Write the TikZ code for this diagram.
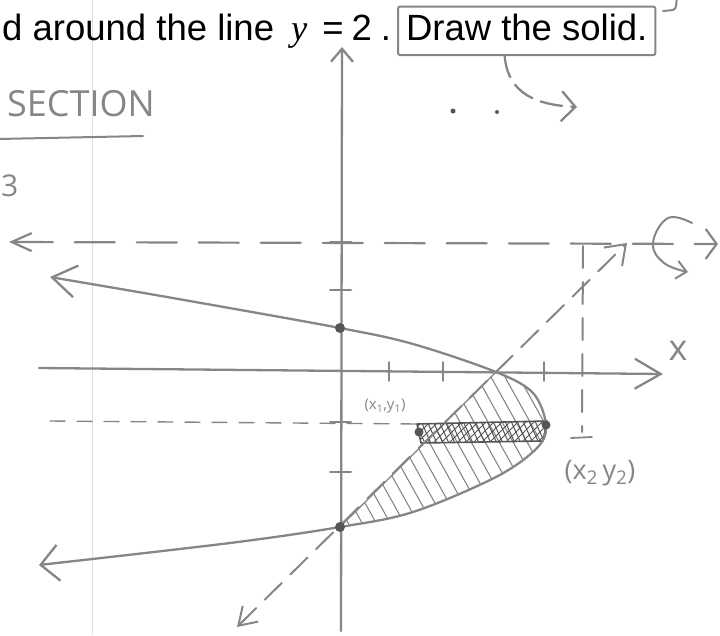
\documentclass[tikz,border=0pt]{standalone}
\usepackage{fontspec}
\setmainfont{Liberation Sans}
\newfontfamily\handfont{Open Sans}
\newfontfamily\serifit{Liberation Serif}[ItalicFont=* Italic]
\usetikzlibrary{arrows.meta}
\definecolor{pencil}{HTML}{868686}
\definecolor{lead}{HTML}{555555}

\begin{document}
\begin{tikzpicture}[
				x=1pt, y=-1pt,
				line cap=round,
				line join=round,
				pencil line/.style={draw=pencil, line width=2.3pt},
				pencil dash/.style={draw=pencil, line width=2.2pt, dash pattern=on 40pt off 22pt},
				thin dash/.style={draw=pencil, line width=1.4pt, dash pattern=on 15pt off 12pt},
				hatch line/.style={draw=pencil, line width=1.1pt},
				strip hatch/.style={draw=lead, line width=1pt},
				pt dot/.style={circle, fill=lead, inner sep=0pt, minimum size=#1},
				pt dot/.default=9pt,
				hand text/.style={text=pencil, font=\handfont\fontsize{#1}{#1}\selectfont, inner sep=0pt},
				typed/.style={font=\fontsize{36.5}{40}\selectfont, inner sep=0pt}
				]
				\useasboundingbox (0,0) rectangle (720,635);
				
				% Margin of the paper
				\draw[black!12, line width=0.8pt] (92,0) -- (92,635);
				
				% Question text
				\node[typed, anchor=base west] (stem) at (2,40) {d around the line};
				\node[typed, anchor=base west] (eqn) at (291,40) {{\serifit\itshape y}\hspace{15pt}=\hspace{8pt}2\hspace{9pt}.};
				\node[typed, draw=pencil, line width=2pt, rounded corners=2pt, inner xsep=8pt, inner ysep=7pt, text depth=8pt, anchor=base west] (solid) at (397,40) {Draw the solid.};
				\draw[pencil line, line width=2pt] (677,-3) -- (676,6) .. controls (675,10) .. (663,11);
				
				% Pointer from the box
				\coordinate (pointend) at (577,107);
				\draw[pencil line, dash pattern=on 22pt off 9pt, -{Straight Barb[length=14pt,width=30pt]}] ([xshift=-22pt]solid.south) .. controls +(3,38) and +(-40,-2) .. (pointend);
				\node[pt dot=5pt] (dotA) at (453,111) {};
				\node[pt dot=4pt] (dotB) at (497,112) {};
				
				% Left margin notes
				\node[hand text=36, anchor=west] (sect) at (7,104) {SECTION};
				\draw[pencil line, line width=2pt] (-2,139) -- (143,136);
				\node[hand text=30, anchor=west] (three) at (1,186) {3};
				
				% Points
				\coordinate (utip) at (50,277);
				\coordinate (u1) at (184,300);
				\coordinate (yup) at (340,328);
				\coordinate (u2) at (413,344);
				\coordinate (xint) at (496,372);
				\coordinate (u3) at (533,393);
				\coordinate (vtx) at (546,425);
				\coordinate (l1) at (537,448);
				\coordinate (l2) at (496,477);
				\coordinate (l3) at (413,512);
				\coordinate (ylow) at (340,527);
				\coordinate (l4) at (230,543);
				\coordinate (ltip) at (39,565);
				\coordinate (pone) at (419,432);
				
				% Shaded region
				\begin{scope}
					\clip plot[smooth, tension=0.55] coordinates {(xint) (u3) (vtx) (l1) (l2) (l3) (ylow)} -- cycle;
					\foreach \hx in {196,210,...,560}
						\draw[hatch line] (\hx,350) -- ++(110,198);
				\end{scope}
				\draw[hatch line, line width=1.3pt] (ylow) -- (xint);
				
				% Strip
				\coordinate (s1) at (417,424);
				\coordinate (s2) at (547,421);
				\coordinate (s3) at (543,441);
				\coordinate (s4) at (421,443);
				\begin{scope}
					\clip (s1) -- (s2) -- (s3) -- (s4) -- cycle;
					\foreach \sx in {380,386,...,560}
						\draw[strip hatch] (\sx,410) -- ++(18,40);
					\foreach \sx in {410,418,...,600}
						\draw[strip hatch] (\sx,410) -- ++(-40,40);
				\end{scope}
				\draw[strip hatch, line width=1.6pt] (s1) -- (s2) -- (s3) -- (s4) -- cycle;
				
				% Axes
				\coordinate (xl) at (39,368);
				\coordinate (xr) at (663,374);
				\coordinate (ybot) at (341,631);
				\coordinate (ytop) at (342,47);
				\draw[pencil line, -{Straight Barb[length=26pt,width=30pt]}] (xl) -- (xr);
				\draw[pencil line, -{Straight Barb[length=13pt,width=22pt]}] (ybot) -- (ytop);
				\foreach \tx in {389,443,544}
					\draw[pencil line, line width=1.8pt] (\tx,362) -- (\tx,381);
				\foreach \ty in {242,290,422,472}
					\draw[pencil line, line width=2pt] (330,\ty) -- (351,\ty);
				\node[hand text=36] (xlab) at (678,351) {x};
				
				% Axis of revolution
				\coordinate (dl) at (9,242);
				\coordinate (dr) at (718,244);
				\draw[pencil dash, {Straight Barb[length=20pt,width=18pt]}-{Straight Barb[length=11pt,width=30pt]}] (dl) -- (dr);
				\draw[pencil line, line width=2pt, -{Straight Barb[length=10pt,width=18pt]}] plot[smooth, tension=0.7] coordinates {(692,223) (668,218) (653,243) (664,263) (688,272)};
				
				% Line through the intersections
				\coordinate (dtip) at (237,627);
				\coordinate (dtop) at (627,243);
				\draw[pencil line, line width=2pt, dash pattern=on 24pt off 12pt, {Straight Barb[length=17pt,width=22pt]}-{Straight Barb[length=18pt,width=26pt]}] (dtip) -- (dtop);
				
				% Guides
				\coordinate (vt) at (583,246);
				\coordinate (vb) at (582,432);
				\draw[pencil line, line width=2pt, dash pattern=on 22pt off 14pt] (vt) -- (vb);
				\draw[pencil line, line width=1.8pt] (571,438) -- (592,437);
				\coordinate (hl) at (50,421);
				\draw[thin dash] (hl) -- (s1);
				
				% Curve
				\draw[pencil line, {Straight Barb[length=24pt,width=32pt]}-{Straight Barb[length=18pt,width=36pt]}] plot[smooth, tension=0.55] coordinates {(utip) (u1) (yup) (u2) (xint) (u3) (vtx) (l1) (l2) (l3) (ylow) (l4) (ltip)};
				
				% Dots
				\node[pt dot=10pt] (yupdot) at (yup) {};
				\node[pt dot=10pt] (ylowdot) at (ylow) {};
				\node[pt dot=9pt] (onedot) at (pone) {};
				\node[pt dot=9pt] (twodot) at (vtx) {};
				
				% Labels
				\node[hand text=15] (onelab) at (385,406) {(x\textsubscript{1},y\textsubscript{1})};
				\node[hand text=27] (twolab) at (600,473) {(x\textsubscript{2}\,y\textsubscript{2})};
			\end{tikzpicture}
\end{document}
